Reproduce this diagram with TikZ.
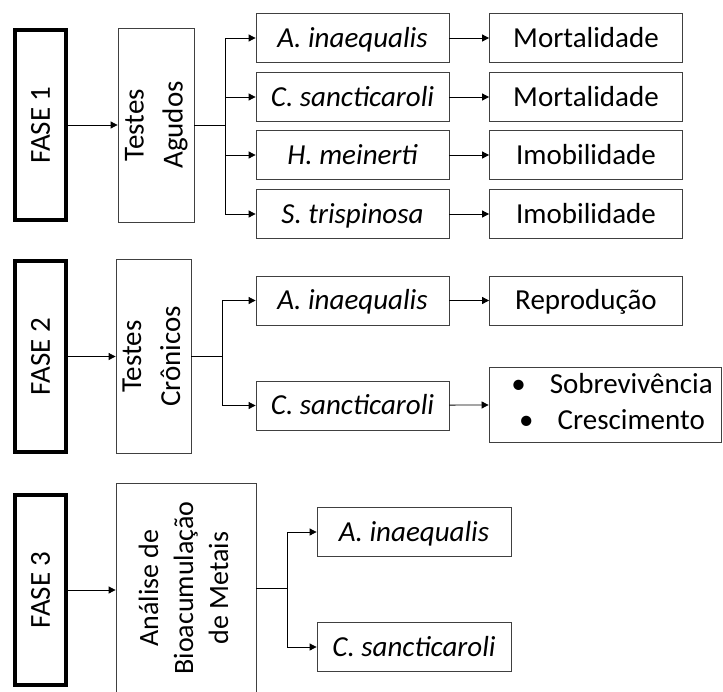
\documentclass[tikz,border=0pt]{standalone}
\usepackage{fontspec}
\setmainfont{Carlito}
\usetikzlibrary{arrows.meta}
\tikzset{
  fase/.style={draw=black, line width=3.5pt, minimum width=51pt, minimum height=190pt, inner sep=0pt},
  mid/.style={draw=black!75, line width=0.8pt, inner sep=0pt, align=center},
  sbox/.style={draw=black!75, line width=0.8pt, minimum width=193pt, minimum height=49pt, inner sep=0pt, text height=18.5pt, text depth=0pt},
  arr/.style={-{Triangle[length=7pt,width=7pt]}, line width=0.8pt},
  ln/.style={line width=0.8pt},
}
\begin{document}
\begin{tikzpicture}[x=1pt,y=-1pt,font=\fontsize{29}{35}\selectfont]
\useasboundingbox (0,0) rectangle (723,691);
% FASE 1
\node[fase] (f1) at (40.5,125) {\rotatebox{90}{FASE 1}};
\node[mid, minimum width=76pt, minimum height=194pt] (t1) at (156,125)
  {\rotatebox{90}{\begin{tabular}{@{}c@{}}Testes\\[4pt]Agudos\end{tabular}}};
\coordinate (b1) at (225,125);
\node[sbox] (s11) at (352.5,38) {\itshape A. inaequalis};
\node[sbox] (s12) at (352.5,97) {\itshape C. sancticaroli};
\node[sbox] (s13) at (352.5,155) {\itshape H. meinerti};
\node[sbox] (s14) at (352.5,214) {\itshape S. trispinosa};
\node[sbox] (r11) at (586,38) {Mortalidade};
\node[sbox] (r12) at (586,97) {Mortalidade};
\node[sbox] (r13) at (586,155) {Imobilidade};
\node[sbox] (r14) at (586,214) {Imobilidade};
\draw[arr] (f1) -- (t1);
\draw[ln] (t1.east) -- (b1);
\draw[arr] (b1) |- (s11.west);
\draw[arr] (b1) |- (s12.west);
\draw[arr] (b1) |- (s13.west);
\draw[arr] (b1) |- (s14.west);
\draw[arr] (s11) -- (r11);
\draw[arr] (s12) -- (r12);
\draw[arr] (s13) -- (r13);
\draw[arr] (s14) -- (r14);
% FASE 2
\node[fase, minimum height=191pt] (f2) at (40.5,356.5) {\rotatebox{90}{FASE 2}};
\node[mid, minimum width=75pt, minimum height=194pt] (t2) at (153.5,356.5)
  {\rotatebox{90}{\begin{tabular}{@{}c@{}}Testes\\[4pt]Crônicos\end{tabular}}};
\coordinate (b2) at (222,356.5);
\node[sbox] (s21) at (352.5,300.5) {\itshape A. inaequalis};
\node[sbox] (s22) at (352.5,405.5) {\itshape C. sancticaroli};
\node[sbox] (r21) at (586,300.5) {Reprodução};
\node[mid, minimum width=232pt, minimum height=75pt] (r22) at (605,404.5)
  {\hspace*{14pt}\begin{tabular}{@{}c@{}}\textbullet\hspace{24pt}Sobrevivência\\[1pt]\textbullet\hspace{24pt}Crescimento\end{tabular}};
\draw[arr] (f2) -- (t2);
\draw[ln] (t2.east) -- (b2);
\draw[arr] (b2) |- (s21.west);
\draw[arr] (b2) |- (s22.west);
\draw[arr] (s21) -- (r21);
\draw[arr] (s22) -- (r22);
% FASE 3
\node[fase] (f3) at (40.5,590) {\rotatebox{90}{FASE 3}};
\node[mid, minimum width=140pt, minimum height=240pt, font=\fontsize{28}{35}\selectfont] (t3) at (186,603)
  {\rotatebox{90}{\hspace*{30pt}\begin{tabular}{@{}c@{}}Análise de\\Bioacumulação\\de Metais\end{tabular}}};
\coordinate (b3) at (287,588);
\node[sbox, minimum width=194pt] (s31) at (414,532) {\itshape A. inaequalis};
\node[sbox, minimum width=194pt] (s32) at (414,647) {\itshape C. sancticaroli};
\draw[arr] (f3.east) -- (f3.east -| t3.west);
\draw[ln] (t3.east |- b3) -- (b3);
\draw[arr] (b3) |- (s31.west);
\draw[arr] (b3) |- (s32.west);
\end{tikzpicture}
\end{document}
